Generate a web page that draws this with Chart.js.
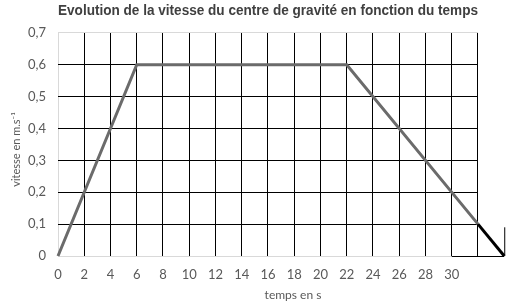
<!DOCTYPE html>
<html>
<head>
<meta charset="utf-8">
<script src="https://cdn.jsdelivr.net/npm/chart.js@4/dist/chart.umd.min.js"></script>
<style>
  html, body { margin: 0; padding: 0; background: #fff; }
  #wrap { width: 511px; height: 303px; }
</style>
</head>
<body>
<div id="wrap"><canvas id="vitesseChart"></canvas></div>
<script>
// temps (s) et vitesse (m/s)
const temps = [0, 6, 22, 32, 34];
const vitesse = [0, 0.6, 0.6, 0.1, 0];
const xTicks = [0, 2, 4, 6, 8, 10, 12, 14, 16, 18, 20, 22, 24, 26, 28, 30];
const yTicks = [0, 0.1, 0.2, 0.3, 0.4, 0.5, 0.6, 0.7];

const points = temps.map((t, i) => ({ x: t, y: vitesse[i] }));
const lightGrey = '#d9d9d9';
const labelColor = '#595959';

// petit cadre noir ajouté à la main en bas à droite
const extraBox = {
    id: 'extraBox',
    afterLayout(chart) {
        // decale un peu les titres d'axes comme dans l'original
        const x = chart.scales.x, y = chart.scales.y;
        x.left += 25; x.right += 25;
        y.top += 5; y.bottom += 5;
    },
    beforeDatasetsDraw(chart) {
        const x = chart.scales.x, y = chart.scales.y, ctx = chart.ctx;
        ctx.save();
        ctx.strokeStyle = '#000';
        ctx.lineWidth = 1;
        ctx.beginPath();
        ctx.moveTo(x.getPixelForValue(30), y.getPixelForValue(0) + 0.5);
        ctx.lineTo(x.getPixelForValue(34), y.getPixelForValue(0) + 0.5);
        ctx.moveTo(x.getPixelForValue(34) + 0.5, y.getPixelForValue(0));
        ctx.lineTo(x.getPixelForValue(34) + 0.5, y.getPixelForValue(0.09));
        ctx.stroke();
        ctx.restore();
    }
};

const ctx = document.getElementById('vitesseChart');
new Chart(ctx, {
    type: 'line',
    data: {
        datasets: [{
            data: points,
            borderColor: '#6b6b6b',
            borderWidth: 3,
            pointRadius: 0,
            tension: 0,
            clip: false,
            segment: {
                borderColor: c => c.p0.parsed.x >= 32 ? '#000' : '#6b6b6b'
            }
        }]
    },
    options: {
        responsive: true,
        maintainAspectRatio: false,
        animation: false,
        layout: { padding: { right: 33 } },
        plugins: {
            legend: { display: false },
            tooltip: { enabled: false },
            title: {
                display: true,
                fullSize: false,
                text: 'Evolution de la vitesse du centre de gravité en fonction du temps',
                color: '#404040',
                font: { family: 'Liberation Sans', size: 14, weight: 'bold' },
                padding: { top: 3, bottom: 13 }
            }
        },
        scales: {
            x: {
                type: 'linear',
                min: 0,
                max: 32.0001,
                afterBuildTicks: axis => { axis.ticks = xTicks.concat([32]).map(v => ({ value: v })); },
                afterFit: axis => { axis.height = 47; },
                ticks: {
                    color: labelColor,
                    font: { family: 'Lato', size: 13 },
                    padding: 11,
                    maxRotation: 0,
                    callback: v => xTicks.includes(v) ? String(v) : ''
                },
                grid: {
                    drawTicks: false,
                    color: c => c.tick && c.tick.value === 0 ? lightGrey : '#000'
                },
                border: { display: false },
                title: {
                    display: true,
                    text: 'temps en s',
                    color: labelColor,
                    font: { family: 'Lato', size: 12 },
                    padding: { top: 0, bottom: 1 }
                }
            },
            y: {
                min: 0,
                max: 0.7,
                afterBuildTicks: axis => { axis.ticks = yTicks.map(v => ({ value: v })); },
                afterFit: axis => { axis.width = 58; },
                ticks: {
                    color: labelColor,
                    font: { family: 'Lato', size: 13 },
                    padding: 12,
                    callback: v => v === 0 ? '0' : v.toFixed(1).replace('.', ',')
                },
                grid: {
                    drawTicks: false,
                    color: c => {
                        const v = c.tick ? c.tick.value : 0;
                        return (v === 0 || Math.abs(v - 0.7) < 1e-9) ? lightGrey : '#000';
                    }
                },
                border: { display: false },
                title: {
                    display: true,
                    text: 'vitesse en m.s⁻¹',
                    color: labelColor,
                    font: { family: 'Lato', size: 11 },
                    padding: { top: 10, bottom: 0 }
                }
            }
        }
    },
    plugins: [extraBox]
});
</script>
</body>
</html>
